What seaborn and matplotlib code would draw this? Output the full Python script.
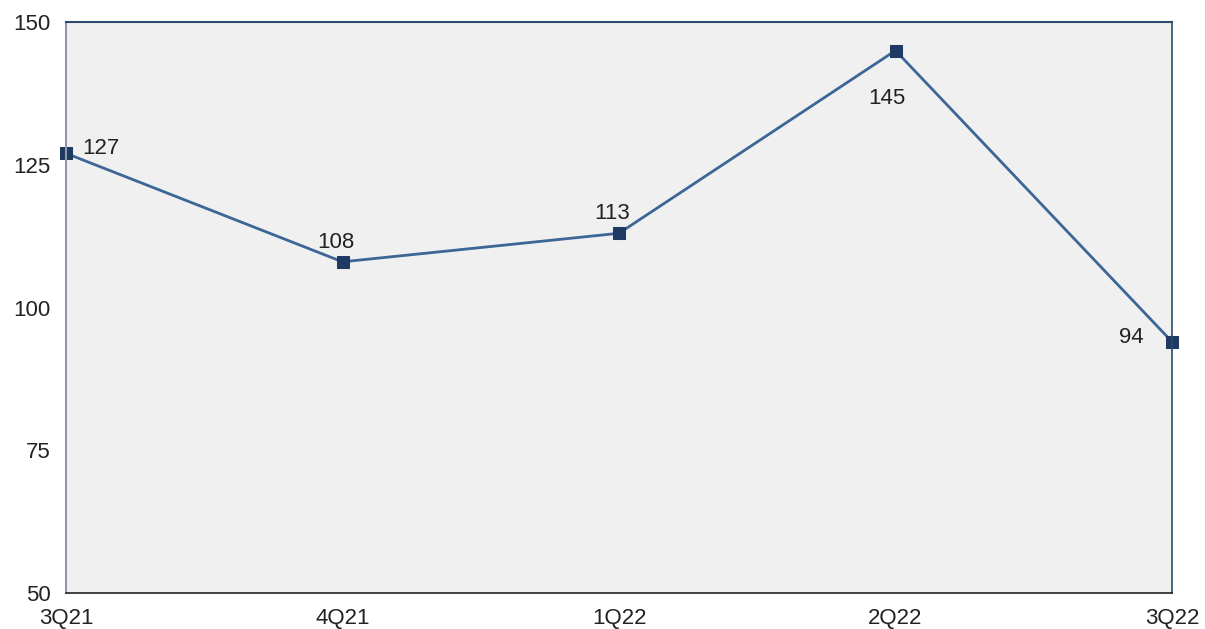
import matplotlib
matplotlib.use("Agg")
import matplotlib.pyplot as plt
import seaborn as sns
import pandas as pd

quarters = ["3Q21", "4Q21", "1Q22", "2Q22", "3Q22"]
values = [127, 108, 113, 145, 94]
y_ticks = [50, 75, 100, 125, 150]

sns.set_style("white")
plt.rcParams["font.family"] = ["Liberation Sans", "DejaVu Sans"]

df = pd.DataFrame({"quarter": quarters, "value": values})
df["pos"] = range(len(df))

fig = plt.figure(figsize=(12.05, 6.29), dpi=100)
ax = fig.add_axes([66 / 1205, 36 / 629, (1172 - 66) / 1205, (593 - 22) / 629])
ax.set_facecolor("#f0f0f0")

sns.lineplot(data=df, x="pos", y="value", ax=ax, color="#3c6696", linewidth=2,
             marker="s", markersize=8, markerfacecolor="#1f3a62",
             markeredgecolor="#1f3a62", clip_on=False)

ax.set_xlim(0, len(quarters) - 1)
ax.set_ylim(50, 150)
ax.set_xticks(range(len(quarters)))
ax.set_xticklabels(quarters)
ax.set_yticks(y_ticks)
ax.set_xlabel("")
ax.set_ylabel("")
ax.tick_params(axis="both", labelsize=16, length=6, width=1, direction="out")
ax.tick_params(axis="y", colors="#8a94a2", labelcolor="#222222", pad=5)
ax.tick_params(axis="x", colors="#333333", labelcolor="#222222", pad=5)

ax.spines["left"].set_color("#8f99a6")
ax.spines["left"].set_linewidth(1.5)
ax.spines["bottom"].set_color("#222222")
ax.spines["bottom"].set_linewidth(1.2)
ax.spines["top"].set_color("#2c4a70")
ax.spines["top"].set_linewidth(1.5)
ax.spines["right"].set_color("#2c4a70")
ax.spines["right"].set_linewidth(1.2)

# value labels placed around each marker
offsets = [(12, 3.5, "left", "center"), (-5, 14, "center", "center"),
           (-5, 14.5, "center", "center"), (-6, -34.5, "center", "center"),
           (-29, 3, "center", "center")]
for i, (v, (dx, dy, ha, va)) in enumerate(zip(values, offsets)):
    ax.annotate(str(v), (i, v), xytext=(dx, dy), textcoords="offset points",
                ha=ha, va=va, fontsize=16, color="#222222")

fig.savefig("out.png", dpi=100)
